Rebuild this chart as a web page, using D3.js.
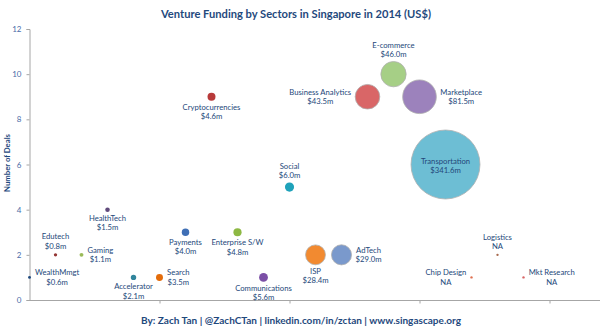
<!DOCTYPE html>
<html><head><meta charset="utf-8">
<script src="https://cdn.jsdelivr.net/npm/d3@7"></script>
<style>body{margin:0;background:#fff}svg{display:block}</style>
</head><body><svg id="c" width="600" height="331"></svg>
<script>
const sectors = ["WealthMmgt","Edutech","Gaming","HealthTech","Accelerator","Search","Payments","Cryptocurrencies","Enterprise S/W","Communications","Social","ISP","AdTech","Business Analytics","E-commerce","Marketplace","Transportation","Chip Design","Logistics","Mkt Research"];
const deals = [1,2,2,4,1,1,3,9,3,1,5,2,2,9,10,9,6,1,2,1];
const funding = [0.6,0.8,1.1,1.5,2.1,3.5,4.0,4.6,4.8,5.6,6.0,28.4,29.0,43.5,46.0,81.5,341.6,null,null,null];
const yTicks = [0,2,4,6,8,10,12];
const xTicks = [5,10,15,20];
const title = "Venture Funding by Sectors in Singapore in 2014 (US$)";
const yTitle = "Number of Deals";
const footer = "By: Zach Tan | @ZachCTan |  linkedin.com/in/zctan | www.singascape.org";

// styling (not data)
const colors = ["#1F497D","#943634","#9BBB59","#604A7B","#31859C","#E46C0A","#3F6FB5","#B83A3A","#8DB843","#7B4FA6","#1FA2BA","#F28A30","#7A99CC","#D96667","#A6CF86","#9C82BC","#6DBED4","#E07050","#A86A4E","#D86464"];
const labelPos = ["right","top","right","bottom","bottom","right","bottom","bottom","bottom","bottom","top","bottom","right","left","top","right","center","left","top","right"];

const svg = d3.select("#c");
const font = "Lato, 'Open Sans', sans-serif";
const x = d3.scaleLinear().domain([0,22]).range([29.5,601.5]);
const y = d3.scaleLinear().domain([0,12]).range([300,29]);
const r = d3.scaleSqrt().domain([0,341.6]).range([0,34.5]);

// title
svg.append("text").attr("x",296).attr("y",18).attr("text-anchor","middle")
  .attr("font-family",font).attr("font-weight","bold").attr("font-size",12)
  .attr("fill","#1F497D").attr("textLength",270).attr("lengthAdjust","spacingAndGlyphs").text(title);

// axes
const gy = svg.append("g").attr("transform","translate(29.5,0)")
  .call(d3.axisLeft(y).tickValues(yTicks).tickSize(3).tickPadding(5));
gy.select(".domain").attr("stroke","#A6A6A6");
gy.selectAll(".tick line").attr("stroke","#A6A6A6");
gy.selectAll(".tick text").attr("fill","#4A6CA8").attr("font-family",font).attr("font-size",8);

const gx = svg.append("g").attr("transform","translate(0,300.5)")
  .call(d3.axisBottom(x).tickValues(xTicks).tickSize(3).tickFormat(""));
gx.select(".domain").attr("stroke","#A6A6A6").attr("d","M29.5,0H600");
gx.selectAll(".tick line").attr("stroke","#A6A6A6");

svg.append("text").attr("transform","translate(10,163) rotate(-90)").attr("text-anchor","middle")
  .attr("font-family",font).attr("font-weight","bold").attr("font-size",8)
  .attr("fill","#1F497D").attr("textLength",58).attr("lengthAdjust","spacingAndGlyphs").text(yTitle);

// bubbles (largest first so small ones on top)
const idx = d3.range(sectors.length).sort((a,b)=>(funding[b]||0)-(funding[a]||0));
svg.append("g").selectAll("circle").data(idx).join("circle")
  .attr("cx",i=>x(i)).attr("cy",i=>y(deals[i]))
  .attr("r",i=>funding[i]==null?1.2:Math.max(1.3,r(funding[i])))
  .attr("fill",i=>colors[i])
  .attr("stroke",i=>(funding[i]||0)>10?"#B0B0B0":"none").attr("stroke-width",0.8);

// labels
const lg = svg.append("g").attr("font-family",font).attr("font-size",7.7).attr("fill","#24487A");
sectors.forEach((s,i)=>{
  const cx = x(i), cy = y(deals[i]);
  const rr = funding[i]==null?1.2:Math.max(1.3,r(funding[i]));
  const val = funding[i]==null?"NA":"$"+funding[i].toFixed(1)+"m";
  const t = lg.append("text").attr("text-anchor","middle");
  const l1 = t.append("tspan").text(s);
  const l2 = t.append("tspan").text(val);
  const w = Math.max(l1.node().getComputedTextLength(), l2.node().getComputedTextLength());
  let tx = cx, ty1;
  const p = labelPos[i];
  if (p==="top") ty1 = cy - rr - 14;
  else if (p==="bottom") ty1 = cy + rr + 9;
  else if (p==="center") ty1 = cy - 1;
  else { ty1 = cy - 2; tx = p==="right" ? cx + rr + 4 + w/2 : cx - rr - 4 - w/2; }
  l1.attr("x",tx).attr("y",ty1);
  l2.attr("x",tx).attr("y",ty1+9.5);
});

// footer
svg.append("text").attr("x",301).attr("y",324).attr("text-anchor","middle")
  .attr("font-family",font).attr("font-weight","bold").attr("font-size",9)
  .attr("fill","#1F497D").attr("textLength",320).attr("lengthAdjust","spacingAndGlyphs").text(footer);
</script></body></html>
